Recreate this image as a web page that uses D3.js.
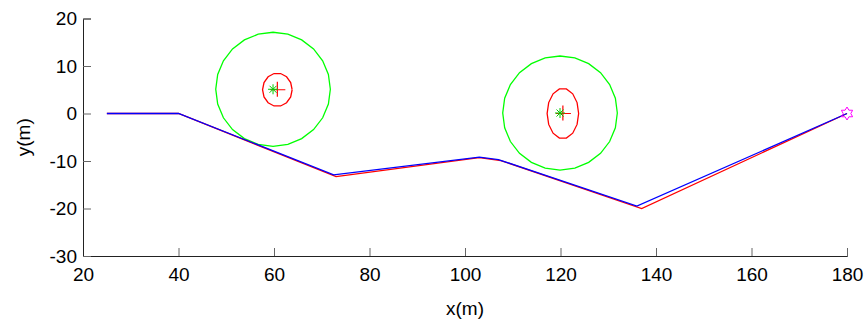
<!DOCTYPE html>
<html>
<head>
<meta charset="utf-8">
<script src="https://cdn.jsdelivr.net/npm/d3@7"></script>
<style>
body { margin: 0; background: #fff; }
text { font-family: "Liberation Sans", Arial, sans-serif; }
</style>
</head>
<body>
<div id="chart"></div>
<script>
// true path (red) and estimated path (blue)
var truePath = [[25, 0], [40, 0], [73, -13.3], [103, -9.3], [107.5, -9.9], [137, -20], [180, 0]];
var estPath  = [[25, 0], [40, 0], [72.5, -12.9], [103, -9.2], [107, -9.7], [136, -19.5], [180, 0]];

// landmarks: true position (green *), estimate (red +), estimate ellipse radii, sensor range
var lmTrue = [[59.8, 5.1], [119.9, 0.1]];
var lmEst = [[60.7, 5.0], [120.5, 0.0]];
var lmEllipse = [[3.1, 3.5], [3.3, 5.3]];
var lmRange = [12, 12];

var goal = [180, 0];

var xTicks = [20, 40, 60, 80, 100, 120, 140, 160, 180];
var yTicks = [-30, -20, -10, 0, 10, 20];

var width = 868, height = 320;
var mLeft = 83, mRight = 847, mTop = 18.5, mBottom = 256;

var svg = d3.select("#chart").append("svg")
  .attr("width", width)
  .attr("height", height);

var x = d3.scaleLinear().domain([20, 180]).range([mLeft, mRight]);
var y = d3.scaleLinear().domain([-30, 20]).range([mBottom, mTop]);

// axes (ticks inward, no box), plain hyphen for minus like the original
var xAxis = d3.axisBottom(x).tickValues(xTicks).tickFormat(d => String(d)).tickSize(-8).tickPadding(12);
var yAxis = d3.axisLeft(y).tickValues(yTicks).tickFormat(d => String(d)).tickSize(-8).tickPadding(6);

var gx = svg.append("g")
  .attr("transform", `translate(0, ${mBottom})`)
  .call(xAxis);
var gy = svg.append("g")
  .attr("transform", `translate(${mLeft}, 0)`)
  .call(yAxis);

[gx, gy].forEach(function(g) {
  g.attr("font-family", null).attr("font-size", null);
  g.select(".domain").attr("stroke", "#222").attr("stroke-width", 1);
  g.selectAll(".tick line").attr("stroke", "#666");
  g.selectAll(".tick text").attr("fill", "#000").style("font-size", "19px");
});

svg.append("text")
  .attr("x", 465)
  .attr("y", 315)
  .attr("text-anchor", "middle")
  .style("font-size", "19px")
  .text("x(m)");

svg.append("text")
  .attr("transform", `translate(30, ${(mTop + mBottom) / 2}) rotate(-90)`)
  .attr("text-anchor", "middle")
  .style("font-size", "19px")
  .text("y(m)");

var plot = svg.append("g");

// ellipse outline as polygon in data units
function ring(c, rx, ry, n) {
  return d3.range(n + 1).map(function(i) {
    var a = 2 * Math.PI * i / n;
    return [c[0] + rx * Math.cos(a), c[1] + ry * Math.sin(a)];
  });
}

var line = d3.line()
  .x(d => x(d[0]))
  .y(d => y(d[1]));

// sensor range circles
lmTrue.forEach(function(c, i) {
  plot.append("path")
    .attr("d", line(ring(c, lmRange[i], lmRange[i], 24)))
    .attr("fill", "none")
    .attr("stroke", "#00ff00")
    .attr("stroke-width", 1.3);
});

// estimate ellipses
lmEst.forEach(function(c, i) {
  plot.append("path")
    .attr("d", line(ring(c, lmEllipse[i][0], lmEllipse[i][1], 14)))
    .attr("fill", "none")
    .attr("stroke", "#ff0000")
    .attr("stroke-width", 1.3);
});

// paths
plot.append("path")
  .attr("d", line(truePath))
  .attr("fill", "none")
  .attr("stroke", "#ff0000")
  .attr("stroke-width", 1.3);

plot.append("path")
  .attr("d", line(estPath))
  .attr("fill", "none")
  .attr("stroke", "#0000ff")
  .attr("stroke-width", 1.3);

// estimated landmark (+)
lmEst.forEach(function(c) {
  var px = x(c[0]), py = y(c[1]);
  plot.append("path")
    .attr("d", `M${px - 7},${py}H${px + 8}M${px},${py - 8}V${py + 7}`)
    .attr("stroke", "#ff0000")
    .attr("stroke-width", 1.2);
});

// true landmark (*)
lmTrue.forEach(function(c) {
  var px = x(c[0]), py = y(c[1]), s = 5;
  plot.append("path")
    .attr("d", `M${px - s},${py}H${px + s}M${px},${py - s}V${py + s}` +
      `M${px - s * 0.7},${py - s * 0.7}L${px + s * 0.7},${py + s * 0.7}` +
      `M${px - s * 0.7},${py + s * 0.7}L${px + s * 0.7},${py - s * 0.7}`)
    .attr("stroke", "#00cc00")
    .attr("stroke-width", 1);
});

// goal hexagram
var hex = d3.range(12).map(function(i) {
  var a = Math.PI * i / 6 - Math.PI / 2;
  var r = i % 2 === 0 ? 6.5 : 3.8;
  return [x(goal[0]) + r * Math.cos(a), y(goal[1]) + r * Math.sin(a)];
});
plot.append("path")
  .attr("d", "M" + hex.join("L") + "Z")
  .attr("fill", "none")
  .attr("stroke", "#ff00ff")
  .attr("stroke-width", 1);
</script>
</body>
</html>
